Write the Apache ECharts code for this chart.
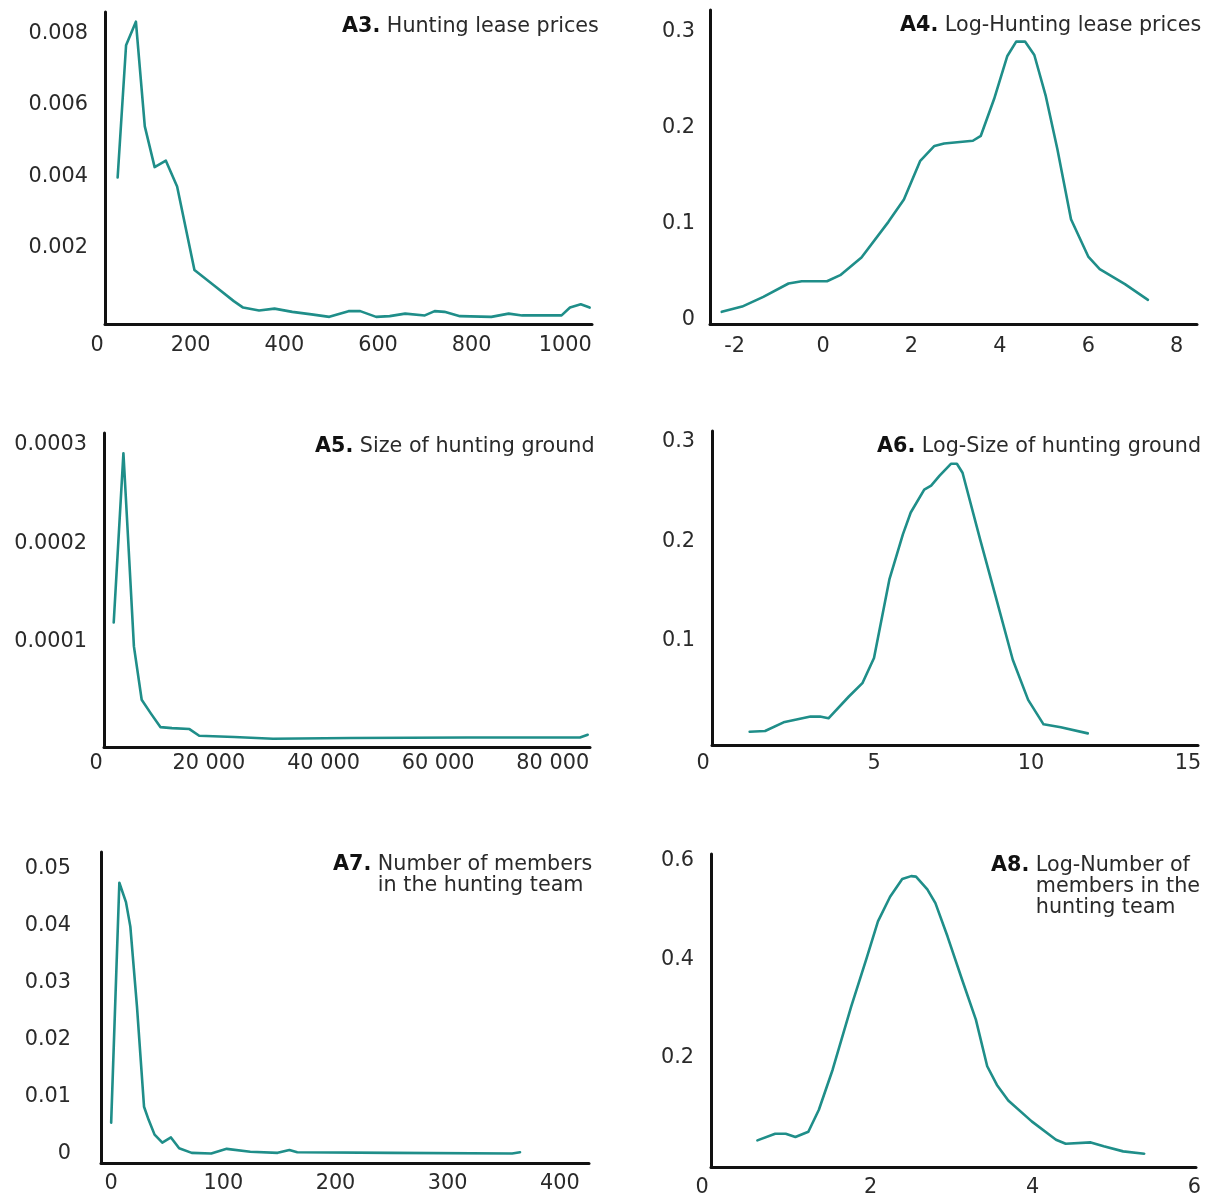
<!DOCTYPE html>
<html>
<head>
<meta charset="utf-8">
<script src="https://cdn.jsdelivr.net/npm/echarts@6/dist/echarts.min.js"></script>
<style>
html,body{margin:0;padding:0;background:#fff}
#main{width:1213px;height:1197px}
</style>
</head>
<body>
<div id="main"></div>
<script>
// A3 - Hunting lease prices
var a3X = [44, 62, 83, 102, 123, 147, 171, 208, 250, 292, 312, 346, 379, 417, 458, 496, 537, 562, 596, 625, 658, 700, 721, 742, 775, 842, 879, 908, 992, 1010, 1033, 1052];
var a3Y = [0.00397, 0.00767, 0.00833, 0.0054, 0.00426, 0.00444, 0.00372, 0.00138, 0.00095, 0.00051, 0.00033, 0.00025, 0.0003, 0.00021, 0.00014, 0.00007, 0.00023, 0.00023, 0.00007, 0.00009, 0.00016, 0.00011, 0.00023, 0.00021, 0.00009, 0.00007, 0.00016, 0.00011, 0.00011, 0.00033, 0.00042, 0.00033];
var a3XTicks = [200, 400, 600, 800, 1000];
var a3YTicks = [0.002, 0.004, 0.006, 0.008];

// A4 - Log-Hunting lease prices
var a4X = [-2.29, -1.83, -1.35, -0.78, -0.48, 0.09, 0.39, 0.87, 1.48, 1.83, 2.2, 2.52, 2.74, 3.39, 3.57, 3.87, 4.17, 4.37, 4.57, 4.78, 5.04, 5.3, 5.61, 6.0, 6.26, 6.83, 7.35];
var a4Y = [0.0077, 0.0132, 0.0233, 0.0373, 0.0397, 0.0397, 0.046, 0.0645, 0.1017, 0.125, 0.1655, 0.181, 0.1836, 0.1864, 0.1916, 0.23, 0.275, 0.29, 0.29, 0.276, 0.233, 0.178, 0.1045, 0.0655, 0.0523, 0.0366, 0.0202];
var a4XTicks = [-2, 0, 2, 4, 6, 8];
var a4YTicks = [0, 0.1, 0.2, 0.3];

// A5 - Size of hunting ground
var a5X = [3390, 5085, 6100, 6915, 8270, 9830, 11530, 13560, 16610, 18310, 24400, 31190, 44750, 65090, 84750, 86100];
var a5Y = [0.0001197, 0.0002915, 0.0001833, 0.0000954, 0.0000413, 0.0000277, 0.0000135, 0.0000125, 0.0000115, 0.0000047, 0.0000034, 0.0000017, 0.0000024, 0.000003, 0.000003, 0.0000057];
var a5XTicks = [20000, 40000, 60000, 80000];
var a5YTicks = [0.0001, 0.0002, 0.0003];

// A6 - Log-Size of hunting ground
var a6X = [1.04, 1.53, 2.12, 2.98, 3.28, 3.55, 4.2, 4.63, 5.0, 5.49, 5.92, 6.17, 6.6, 6.82, 7.09, 7.45, 7.64, 7.82, 8.38, 8.87, 9.42, 9.91, 10.4, 10.95, 11.81];
var a6Y = [0.0084, 0.0091, 0.0178, 0.0236, 0.0236, 0.0219, 0.0438, 0.0572, 0.0825, 0.1616, 0.207, 0.229, 0.252, 0.256, 0.266, 0.278, 0.278, 0.269, 0.202, 0.145, 0.0808, 0.0404, 0.0158, 0.0128, 0.0067];
var a6XTicks = [5, 10, 15];
var a6YTicks = [0.1, 0.2, 0.3];

// A7 - Number of members in the hunting team
var a7X = [0, 7.3, 13.2, 17.1, 23, 29.3, 33.4, 38.7, 45.6, 53.3, 60.6, 71.8, 89.2, 103, 124, 148.4, 158.9, 165.9, 249.5, 357.5, 364.5];
var a7Y = [0.0054, 0.0475, 0.0441, 0.0398, 0.0258, 0.0082, 0.0059, 0.0033, 0.0019, 0.0028, 0.0009, 0.0001, 0.0, 0.0008, 0.0003, 0.0001, 0.0006, 0.0002, 0.0001, 0.0, 0.0002];
var a7XTicks = [0, 100, 200, 300, 400];
var a7YTicks = [0, 0.01, 0.02, 0.03, 0.04, 0.05];

// A8 - Log-Number of members in the hunting team
var a8X = [0.6, 0.82, 0.95, 1.07, 1.23, 1.36, 1.53, 1.76, 1.95, 2.09, 2.24, 2.39, 2.5, 2.56, 2.7, 2.8, 2.95, 3.13, 3.3, 3.44, 3.56, 3.7, 3.99, 4.29, 4.41, 4.72, 4.88, 5.12, 5.38];
var a8Y = [0.0312, 0.0447, 0.0447, 0.038, 0.0488, 0.0936, 0.175, 0.304, 0.402, 0.477, 0.527, 0.563, 0.569, 0.568, 0.542, 0.514, 0.446, 0.358, 0.277, 0.182, 0.144, 0.1125, 0.0698, 0.0325, 0.0244, 0.0271, 0.019, 0.0088, 0.0041];
var a8XTicks = [2, 4, 6];
var a8YTicks = [0.2, 0.4, 0.6];

var FONT = 'DejaVu Sans';
var TEAL = '#1f8e89';
var INK = '#2a2a2a';
var TICK_SIZE = 20.8;
var TITLE_SIZE = 20.7;

function plainNum(v) { return String(+(+v).toPrecision(6)); }
function spaced(v) { return String(Math.round(v)).replace(/\B(?=(\d{3})+(?!\d))/g, ' '); }

// panel layout: grid box = axis lines, ranges
var panels = [
    {tag: 'A3.', lines: ['Hunting lease prices'], tl: 342, tt: 16,
     g: [105, 12, 487, 312], xr: [17, 1057], yr: [-0.00013, 0.0086],
     x: a3X, y: a3Y, xt: a3XTicks, yt: a3YTicks, corner: 8, xm: 11, ym: 17},
    {tag: 'A4.', lines: ['Log-Hunting lease prices'], tl: 900, tt: 15,
     g: [710, 10, 487, 314], xr: [-2.556, 8.46], yr: [-0.005, 0.323],
     x: a4X, y: a4Y, xt: a4XTicks, yt: a4YTicks, corner: 0, xm: 12, ym: 15},
    {tag: 'A5.', lines: ['Size of hunting ground'], tl: 315, tt: 436,
     g: [104, 433, 486, 314], xr: [1695, 86500], yr: [-0.0000067, 0.000312],
     x: a5X, y: a5Y, xt: a5XTicks, yt: a5YTicks, corner: 8, xm: 6, ym: 17, xf: spaced},
    {tag: 'A6.', lines: ['Log-Size of hunting ground'], tl: 877, tt: 436,
     g: [712, 431, 486, 314], xr: [-0.16, 15.32], yr: [-0.005, 0.311],
     x: a6X, y: a6Y, xt: a6XTicks, yt: a6YTicks, corner: 9, xm: 8, ym: 17},
    {tag: 'A7.', lines: ['Number of members', 'in the hunting team'], tl: 333, tt: 854,
     g: [101, 852, 488, 311], xr: [-9.06, 426], yr: [-0.00168, 0.0529],
     x: a7X, y: a7Y, xt: a7XTicks, yt: a7YTicks, corner: 0, xm: 10, ym: 30},
    {tag: 'A8.', lines: ['Log-Number of', 'members in the', 'hunting team'], tl: 991, tt: 855,
     g: [711, 854, 485, 313], xr: [0.027, 6.02], yr: [-0.023, 0.614],
     x: a8X, y: a8Y, xt: a8XTicks, yt: a8YTicks, corner: 9, xm: 10, ym: 17}
];

var grids = [], xAxes = [], yAxes = [], series = [], titles = [];

panels.forEach(function (p, i) {
    grids.push({
        left: p.g[0], top: p.g[1], width: p.g[2], height: p.g[3],
        containLabel: false, outerBoundsMode: 'none'
    });
    xAxes.push({
        type: 'value', gridIndex: i, min: p.xr[0], max: p.xr[1],
        name: p.corner ? '0' : '',
        nameLocation: 'start',
        nameGap: p.corner,
        nameMoveOverlap: false,
        nameTextStyle: {
            fontFamily: FONT, fontSize: TICK_SIZE, color: INK,
            align: 'center', verticalAlign: 'top', padding: [p.xm, 0, 0, 0]
        },
        axisLine: {show: true, onZero: false, lineStyle: {color: '#111', width: 3}},
        axisTick: {show: false},
        splitLine: {show: false},
        axisLabel: {
            customValues: p.xt, margin: p.xm,
            fontFamily: FONT, fontSize: TICK_SIZE, color: INK,
            formatter: p.xf || plainNum
        }
    });
    yAxes.push({
        type: 'value', gridIndex: i, min: p.yr[0], max: p.yr[1],
        axisLine: {show: true, onZero: false, lineStyle: {color: '#111', width: 3}},
        axisTick: {show: false},
        splitLine: {show: false},
        axisLabel: {
            customValues: p.yt, margin: p.ym,
            fontFamily: FONT, fontSize: TICK_SIZE, color: INK,
            formatter: plainNum
        }
    });
    var pts = [];
    for (var k = 0; k < p.x.length; k++) {
        pts.push([p.x[k], p.y[k]]);
    }
    series.push({
        type: 'line', xAxisIndex: i, yAxisIndex: i,
        data: pts, showSymbol: false, smooth: false,
        lineStyle: {color: TEAL, width: 2.6, cap: 'round', join: 'round'},
        animation: false
    });
    // bold tag, hanging indent for the wrapped lines
    var txt = p.lines.map(function (ln, j) {
        return (j === 0 ? '{b|' : '{h|') + p.tag + '} ' + ln;
    }).join('\n');
    titles.push({
        left: p.tl, top: p.tt, padding: 0, textAlign: 'left',
        text: txt,
        textStyle: {
            fontFamily: FONT, fontSize: TITLE_SIZE, fontWeight: 'normal', color: INK, lineHeight: 21,
            rich: {
                b: {fontFamily: FONT, fontSize: TITLE_SIZE, fontWeight: 'bold', color: '#111', lineHeight: 21},
                h: {fontFamily: FONT, fontSize: TITLE_SIZE, fontWeight: 'bold', color: 'rgba(0,0,0,0)', lineHeight: 21}
            }
        }
    });
});

var option = {
    backgroundColor: '#fff',
    animation: false,
    title: titles,
    grid: grids,
    xAxis: xAxes,
    yAxis: yAxes,
    series: series
};

var myChart = echarts.init(document.getElementById('main'), null, {renderer: 'canvas'});
myChart.setOption(option);
</script>
</body>
</html>
